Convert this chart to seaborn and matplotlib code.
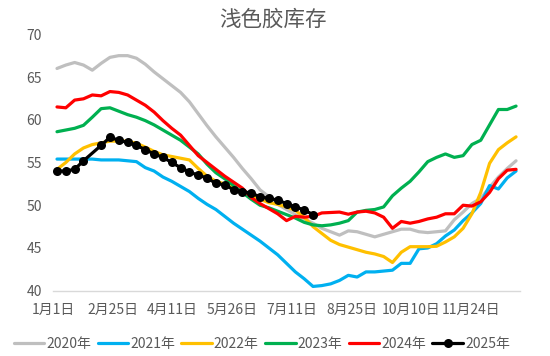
import numpy as np
import pandas as pd
import matplotlib
matplotlib.use("Agg")
import matplotlib.pyplot as plt
import seaborn as sns

title = "浅色胶库存"
years = ["2020年", "2021年", "2022年", "2023年", "2024年", "2025年"]
tick_labels = ["1月1日", "2月25日", "4月11日", "5月26日", "7月11日",
               "8月25日", "10月10日", "11月24日"]
y_ticks = [40, 45, 50, 55, 60, 65, 70]

y2020 = [66.0, 66.4, 66.7, 66.4, 65.8, 66.6, 67.3, 67.5, 67.5, 67.2,
         66.5, 65.6, 64.8, 64.0, 63.2, 62.1, 60.7, 59.3, 58.0, 56.8,
         55.6, 54.3, 53.1, 51.8, 51.0, 50.1, 49.5, 48.9, 48.4, 47.9,
         47.3, 46.9, 46.5, 47.0, 46.9, 46.6, 46.3, 46.6, 46.9, 47.2,
         47.2, 46.9, 46.8, 46.9, 47.0, 48.3, 49.2, 50.2, 50.8, 52.1,
         53.3, 54.3, 55.2]
y2021 = [55.4, 55.4, 55.4, 55.4, 55.4, 55.3, 55.3, 55.3, 55.2, 55.1,
         54.4, 54.0, 53.3, 52.8, 52.2, 51.6, 50.8, 50.1, 49.5, 48.7,
         47.9, 47.2, 46.5, 45.8, 45.0, 44.2, 43.2, 42.2, 41.4, 40.5,
         40.6, 40.8, 41.2, 41.8, 41.6, 42.2, 42.2, 42.3, 42.4, 43.2,
         43.2, 44.9, 45.0, 45.5, 46.4, 47.1, 48.2, 49.1, 50.2, 52.3,
         51.9, 53.2, 54.0]
y2022 = [54.2, 55.0, 56.0, 56.7, 57.1, 57.3, 57.5, 57.5, 57.5, 57.25,
         56.8, 56.3, 55.9, 55.7, 55.5, 55.3, 54.3, 53.4, 52.8, 52.5,
         52.0, 51.6, 51.2, 50.7, 50.3, 50.1, 49.8, 49.4, 48.6, 47.5,
         46.7, 45.9, 45.4, 45.1, 44.8, 44.5, 44.3, 44.0, 43.3, 44.5,
         45.15, 45.15, 45.15, 45.2, 45.7, 46.3, 47.3, 49.0, 51.5, 54.9,
         56.5, 57.3, 58.0]
y2023 = [58.6, 58.8, 59.0, 59.35, 60.3, 61.3, 61.4, 61.0, 60.6, 60.3,
         59.9, 59.4, 58.8, 58.2, 57.6, 56.8, 56.0, 54.8, 53.8, 53.1,
         52.3, 51.5, 50.7, 50.0, 49.7, 49.3, 48.9, 48.5, 48.0, 47.7,
         47.6, 47.7, 47.9, 48.2, 49.2, 49.4, 49.5, 49.8, 51.1, 52.0,
         52.8, 53.9, 55.1, 55.6, 56.0, 55.6, 55.8, 57.1, 57.6, 59.4,
         61.2, 61.2, 61.6]
y2024 = [61.5, 61.4, 62.3, 62.45, 62.9, 62.8, 63.3, 63.2, 62.9, 62.3,
         61.7, 60.9, 59.9, 59.0, 58.2, 57.0, 55.8, 55.0, 54.2, 53.4,
         52.7, 52.0, 50.9, 50.2, 49.6, 49.0, 48.2, 48.7, 48.6, 48.7,
         49.1, 49.15, 49.2, 48.95, 49.2, 49.3, 49.1, 48.6, 47.3, 48.1,
         47.9, 48.1, 48.4, 48.6, 49.0, 49.0, 50.0, 49.9, 50.4, 51.5,
         53.1, 54.1, 54.2]
y2025 = [54.0, 54.0, 54.2, 55.2, np.nan, 57.0, 57.95, 57.6, 57.35, 57.0,
         56.5, 56.0, 55.6, 55.0, 54.4, 53.9, 53.5, 53.2, 52.55, 52.4,
         51.8, 51.6, 51.4, 51.0, 50.8, 50.6, 50.2, 49.8, 49.45, 48.9]

colors = {"2020年": "#BFBFBF", "2021年": "#00B0F0", "2022年": "#FFC000",
          "2023年": "#00B050", "2024年": "#FF0000", "2025年": "#000000"}

series = [y2020, y2021, y2022, y2023, y2024]
rows = []
for yr, vals in zip(years[:5], series):
    for i, v in enumerate(vals):
        rows.append({"week": i, "value": v, "year": yr})
df = pd.DataFrame(rows)
df25 = pd.DataFrame({"week": np.arange(len(y2025)), "value": y2025,
                     "year": years[5]}).dropna()

sns.set_style("white")
plt.rcParams["font.family"] = ["Noto Sans CJK SC", "DejaVu Sans"]

fig = plt.figure(figsize=(5.5, 3.56), dpi=100)
ax = fig.add_axes([0.0964, 0.1834, 0.8491, 0.7203])

sns.lineplot(data=df, x="week", y="value", hue="year", palette=colors,
             linewidth=2.3, ax=ax, sort=False, estimator=None,
             solid_capstyle="round", solid_joinstyle="round")
sns.lineplot(data=df25, x="week", y="value", color=colors["2025年"],
             linewidth=2.3, marker="o", markersize=6.5, markeredgewidth=0,
             ax=ax, sort=False, estimator=None, label="2025年",
             solid_capstyle="round", solid_joinstyle="round")

ax.set_xlim(-0.45, 52.45)
ax.set_ylim(40, 70)
ax.set_yticks(y_ticks)
ax.set_yticklabels([str(t) for t in y_ticks])
step = 59.6 / 8.83
ax.set_xticks([-0.4 + step * k for k in range(len(tick_labels))])
ax.set_xticklabels(tick_labels)
ax.set_xlabel("")
ax.set_ylabel("")
ax.tick_params(axis="both", length=0, labelsize=10, labelcolor="#595959")
ax.tick_params(axis="y", pad=8)
ax.tick_params(axis="x", pad=9)
for s in ["left", "top", "right"]:
    ax.spines[s].set_visible(False)
ax.spines["bottom"].set_color("#D9D9D9")
ax.spines["bottom"].set_linewidth(1)
ax.grid(False)

handles, labels = ax.get_legend_handles_labels()
ax.get_legend().remove()
fig.legend(handles, labels, loc="center", bbox_to_anchor=(0.476, 0.033),
           ncol=6, frameon=False, fontsize=10, labelcolor="#595959",
           handlelength=2.2, handletextpad=0.15, columnspacing=0.45)

fig.text(0.496, 1 - 20 / 356, title, ha="center", va="center",
         fontsize=15.5, color="#595959")

fig.savefig("out.png", dpi=100)
